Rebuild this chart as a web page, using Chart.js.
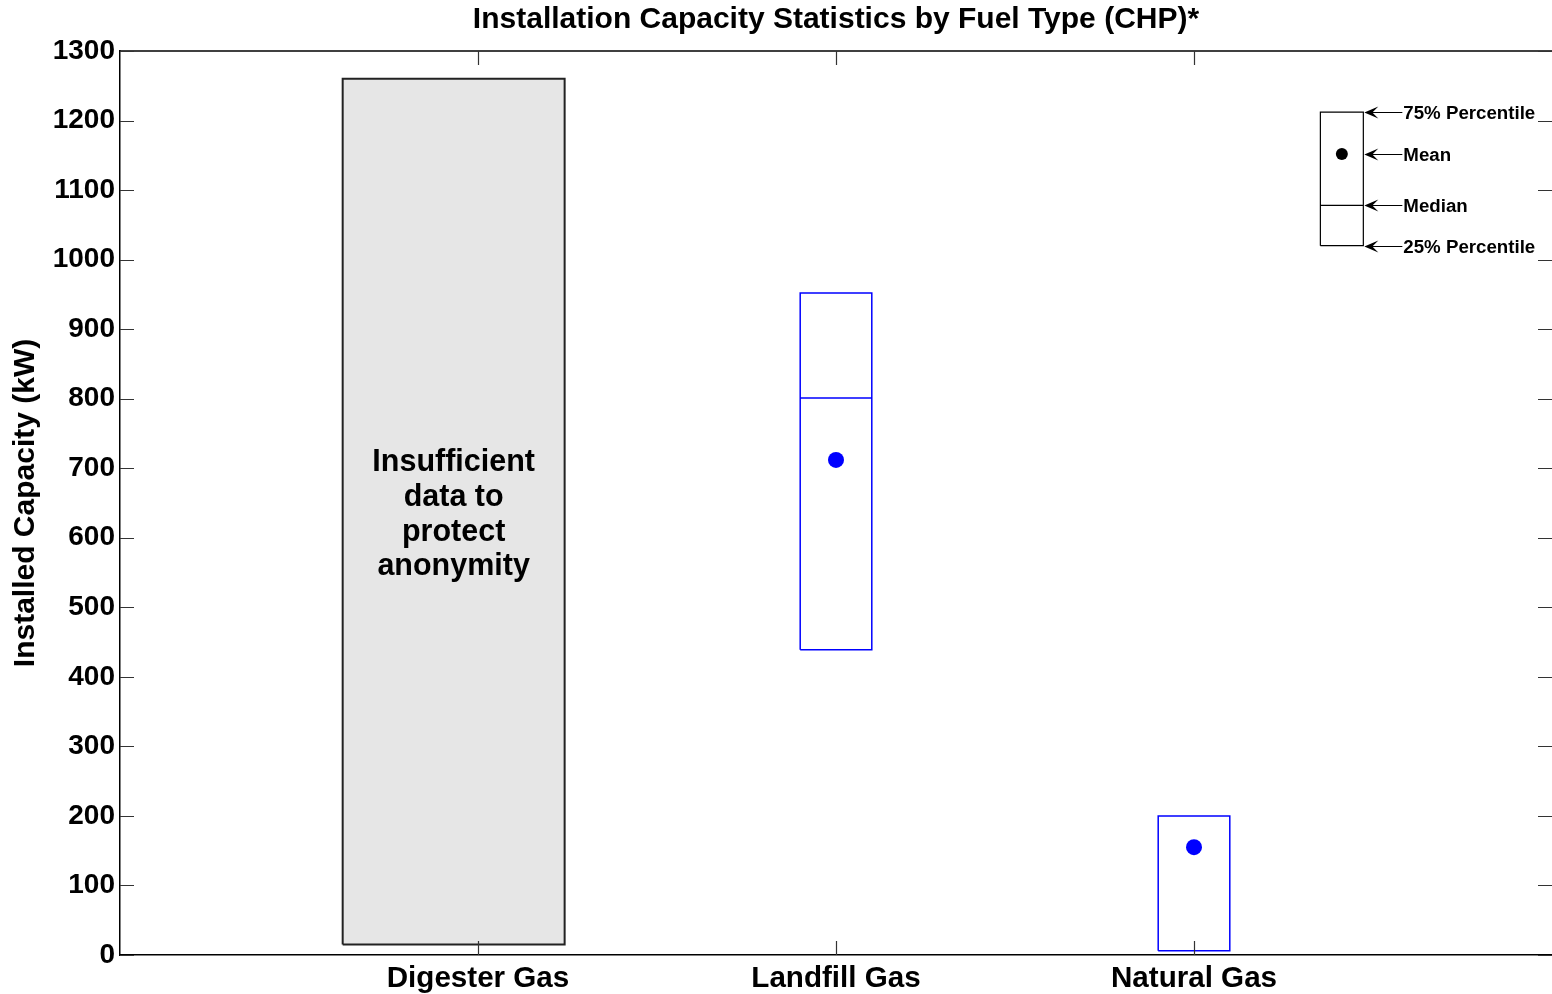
<!DOCTYPE html>
<html>
<head>
<meta charset="utf-8">
<script src="https://cdn.jsdelivr.net/npm/chart.js@4.4.0/dist/chart.umd.min.js"></script>
<style>
html, body { margin: 0; padding: 0; background: #fff; overflow: hidden; }
#wrap { width: 1552px; height: 994px; }
</style>
</head>
<body>
<div id="wrap"><canvas id="myChart"></canvas></div>
<script>
// data
const categories = ['Digester Gas', 'Landfill Gas', 'Natural Gas']
const pct25 = [15, 439, 6]
const medians = [null, 801, null]
const means = [null, 712, 155]
const pct75 = [1260, 952, 200]
const insufficient = [true, false, false]
const yTicks = [0, 100, 200, 300, 400, 500, 600, 700, 800, 900, 1000, 1100, 1200, 1300]

// key (legend) box
const keyLabels = ['75% Percentile', 'Mean', 'Median', '25% Percentile']
const keyValues = [1212, 1152, 1078, 1020]

const BOX_HALF = 0.1
const GREY_SHIFT = -0.068   // grey panel sits a little left of its tick
const GREY_HALF = 0.31
const KEY_X = 3.413
const KEY_HALF = 0.06
const FONT = 'Liberation Sans, Arial, sans-serif'

const rect = (c, w, lo, hi) => [
    { x: c - w, y: lo }, { x: c + w, y: lo }, { x: c + w, y: hi },
    { x: c - w, y: hi }, { x: c - w, y: lo }
]
const gap = { x: null, y: null }

let blueBoxes = []
let greyOutline = []
let greyFills = []
categories.forEach((name, i) => {
    if (insufficient[i]) {
        const c = i + 1 + GREY_SHIFT
        greyOutline = greyOutline.concat(rect(c, GREY_HALF, pct25[i], pct75[i]), [gap])
        greyFills.push({
            type: 'line',
            data: [{ x: c - GREY_HALF, y: pct75[i] }, { x: c + GREY_HALF, y: pct75[i] }],
            fill: { value: pct25[i] },
            backgroundColor: '#e6e6e6',
            borderWidth: 0,
            pointRadius: 0
        })
        return
    }
    const c = i + 1
    blueBoxes = blueBoxes.concat(rect(c, BOX_HALF, pct25[i], pct75[i]), [gap])
    if (medians[i] !== null)
        blueBoxes.push({ x: c - BOX_HALF, y: medians[i] }, { x: c + BOX_HALF, y: medians[i] }, gap)
})

const keyBox = rect(KEY_X, KEY_HALF, keyValues[3], keyValues[0]).concat([
    gap, { x: KEY_X - KEY_HALF, y: keyValues[2] }, { x: KEY_X + KEY_HALF, y: keyValues[2] }
])

const meanPoints = means
    .map((m, i) => (m === null ? null : { x: i + 1, y: m }))
    .filter(p => p)

const decorations = {
    id: 'decorations',
    afterDatasetsDraw(chart) {
        const ctx = chart.ctx
        const x = chart.scales.x
        const y = chart.scales.y
        const area = chart.chartArea
        const tick = 14
        ctx.save()
        // top border
        ctx.strokeStyle = '#000'
        ctx.lineWidth = 1.5
        ctx.beginPath()
        ctx.moveTo(area.left, area.top)
        ctx.lineTo(area.right, area.top)
        ctx.stroke()
        // inward ticks
        ctx.strokeStyle = '#333'
        ctx.lineWidth = 1.2
        ctx.beginPath()
        yTicks.forEach(v => {
            const py = Math.round(y.getPixelForValue(v)) + 0.5
            ctx.moveTo(area.left, py)
            ctx.lineTo(area.left + tick, py)
            ctx.moveTo(area.right, py)
            ctx.lineTo(area.right - tick, py)
        })
        categories.forEach((n, i) => {
            const px = Math.round(x.getPixelForValue(i + 1)) + 0.5
            ctx.moveTo(px, area.top)
            ctx.lineTo(px, area.top + tick)
            ctx.moveTo(px, area.bottom)
            ctx.lineTo(px, area.bottom - tick)
        })
        ctx.stroke()

        // key arrows and labels
        const x0 = x.getPixelForValue(KEY_X + KEY_HALF) + 1
        ctx.strokeStyle = '#000'
        ctx.fillStyle = '#000'
        ctx.lineWidth = 1.2
        ctx.font = 'bold 18.7px ' + FONT
        ctx.textBaseline = 'middle'
        ctx.textAlign = 'left'
        keyValues.forEach((v, i) => {
            const py = Math.round(y.getPixelForValue(v)) + 0.5
            ctx.beginPath()
            ctx.moveTo(x0 + 6, py)
            ctx.lineTo(x0 + 38, py)
            ctx.stroke()
            ctx.beginPath()
            ctx.moveTo(x0, py)
            ctx.lineTo(x0 + 14, py - 6)
            ctx.lineTo(x0 + 8, py)
            ctx.lineTo(x0 + 14, py + 6)
            ctx.closePath()
            ctx.fill()
            ctx.fillText(keyLabels[i], x0 + 39, py + 1)
        })

        // note on the grey box
        ctx.font = 'bold 30.5px ' + FONT
        ctx.textAlign = 'center'
        const lines = ['Insufficient', 'data to', 'protect', 'anonymity']
        const cx = x.getPixelForValue(1 + GREY_SHIFT)
        const cy = y.getPixelForValue(633)
        lines.forEach((t, i) => ctx.fillText(t, cx, cy + (i - 1.5) * 34.7))
        ctx.restore()
    }
}

const ctx = document.getElementById('myChart').getContext('2d')
const chart = new Chart(ctx, {
    type: 'scatter',
    data: {
        datasets: [
            {
                type: 'scatter',
                data: meanPoints,
                backgroundColor: '#0000ff',
                borderWidth: 0,
                pointRadius: 8
            },
            {
                type: 'scatter',
                data: [{ x: KEY_X, y: keyValues[1] }],
                backgroundColor: '#000',
                borderWidth: 0,
                pointRadius: 6
            },
            {
                type: 'line',
                data: blueBoxes,
                borderColor: '#0000ff',
                borderWidth: 1.5,
                pointRadius: 0,
                spanGaps: false
            },
            {
                type: 'line',
                data: keyBox,
                borderColor: '#000',
                borderWidth: 1.2,
                pointRadius: 0,
                spanGaps: false
            },
            {
                type: 'line',
                data: greyOutline,
                borderColor: '#222',
                borderWidth: 2,
                pointRadius: 0,
                spanGaps: false
            },
            ...greyFills
        ]
    },
    options: {
        responsive: true,
        maintainAspectRatio: false,
        animation: false,
        devicePixelRatio: 1,
        layout: { padding: 0, autoPadding: false },
        plugins: {
            legend: { display: false },
            tooltip: { enabled: false },
            title: {
                display: true,
                fullSize: false,
                text: 'Installation Capacity Statistics by Fuel Type (CHP)*',
                color: '#000',
                font: { family: FONT, size: 30, weight: 'bold' },
                padding: { top: 2, bottom: 13 }
            }
        },
        scales: {
            x: {
                type: 'linear',
                min: 0,
                max: 4,
                afterBuildTicks: s => { s.ticks = categories.map((n, i) => ({ value: i + 1 })) },
                afterFit: s => { s.height = 39 },
                ticks: {
                    callback: v => categories[v - 1],
                    color: '#000',
                    padding: 6,
                    maxRotation: 0,
                    font: { family: FONT, size: 29.6, weight: 'bold' }
                },
                grid: { display: false, drawTicks: false },
                border: { display: true, color: '#000', width: 1.5 }
            },
            y: {
                min: 0,
                max: 1300,
                afterBuildTicks: s => { s.ticks = yTicks.map(v => ({ value: v })) },
                afterFit: s => { s.width = 120 },
                ticks: {
                    callback: v => String(v),
                    color: '#000',
                    padding: 5,
                    font: { family: FONT, size: 28, weight: 'bold' }
                },
                title: {
                    display: true,
                    text: 'Installed Capacity (kW)',
                    color: '#000',
                    padding: { top: 8, bottom: 4 },
                    font: { family: FONT, size: 30, weight: 'bold' }
                },
                grid: { display: false, drawTicks: false },
                border: { display: true, color: '#000', width: 1.5 }
            }
        }
    },
    plugins: [decorations]
})
</script>
</body>
</html>
